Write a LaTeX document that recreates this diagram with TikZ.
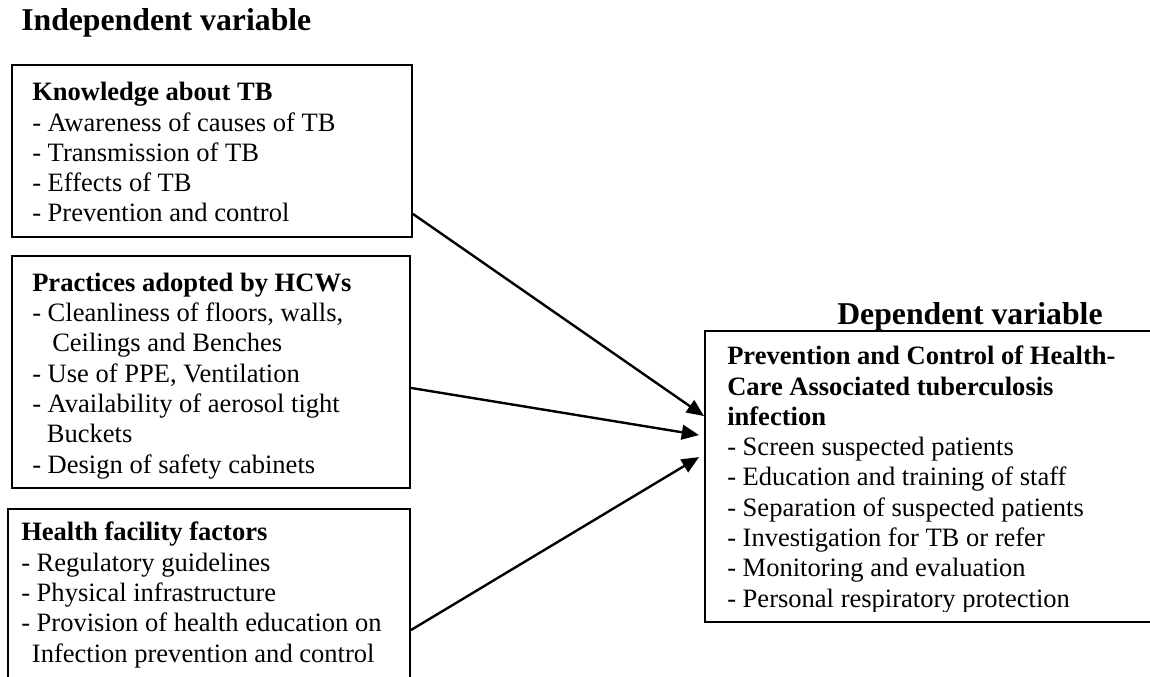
\documentclass[tikz,border=0pt]{standalone}
\usepackage{fontspec}
\setmainfont{Liberation Serif}
\usetikzlibrary{positioning,
                arrows.meta,                % arrow tips
                calc,                       % shifted anchors
                fit}                        % boxes from corners

\begin{document}
\begin{tikzpicture}[x=0.75pt, y=-0.75pt,
    varbox/.style={draw, line width=1.4pt, inner sep=0pt},
    boxtext/.style={anchor=base west, align=left, inner sep=0pt,
                    font=\fontsize{19.9pt}{22.7pt}\selectfont},
    heading/.style={anchor=base west, inner sep=0pt,
                    font=\fontsize{23.8pt}{28pt}\selectfont\bfseries},
    link/.style={line width=1.8pt, -{Triangle[length=13pt, width=11pt]}}]

    \useasboundingbox (0,0) rectangle (1150,677);
    \clip (0,0) rectangle (1150,677);

    \node[heading] (indephead) at (21,31) {Independent variable};
    \node[heading] (dephead) at (837,325) {Dependent variable};

    % independent variables (text nodes sit on their last baseline)
    \node[varbox, fit={(12,65) (412,237)}] (know) {};
    \node[boxtext] (knowtxt) at (32,222)
        {\textbf{Knowledge about TB}\\
         - Awareness of causes of TB\\
         - Transmission of TB\\
         - Effects of TB\\
         - Prevention and control};

    \node[varbox, fit={(12,256) (410,488)}] (prac) {};
    \begin{scope}
        \clip (12,256) rectangle (410,478);
        \node[boxtext] (practxt) at (32,473)
            {\textbf{Practices adopted by HCWs}\\
             - Cleanliness of floors, walls,\\
             \hspace*{15pt}Ceilings and Benches\\
             - Use of PPE, Ventilation\\
             - Availability of aerosol tight\\
             \hspace*{11pt}Buckets\\
             - Design of safety cabinets};
    \end{scope}

    \node[varbox, fit={(8,509) (410,700)}] (fac) {};
    \node[boxtext] (factxt) at (21,662)
        {\textbf{Health facility factors}\\
         - Regulatory guidelines\\
         - Physical infrastructure\\
         - Provision of health education on\\
         \hspace*{8pt}Infection prevention and control};

    % dependent variable
    \node[varbox, fit={(705,331) (1160,622)}] (ctrl) {};
    \begin{scope}
        \clip (705,331) rectangle (1150,611);
        \node[boxtext] (ctrltxt) at (727,607)
            {\textbf{Prevention and Control of Health-}\\
             \textbf{Care Associated tuberculosis}\\
             \textbf{infection}\\
             - Screen suspected patients\\
             - Education and training of staff\\
             - Separation of suspected patients\\
             - Investigation for TB or refer\\
             - Monitoring and evaluation\\
             - Personal respiratory protection};
    \end{scope}

    \draw[link] ($(know.south east)+(0,-24)$) -- ($(ctrl.north west)+(0,86)$);
    \draw[link] ($(prac.south east)+(0,-101)$) -- ($(ctrl.north west)+(-5,105)$);
    \draw[link] ($(fac.north east)+(0,122)$) -- ($(ctrl.north west)+(-5,127)$);
\end{tikzpicture}
\end{document}
